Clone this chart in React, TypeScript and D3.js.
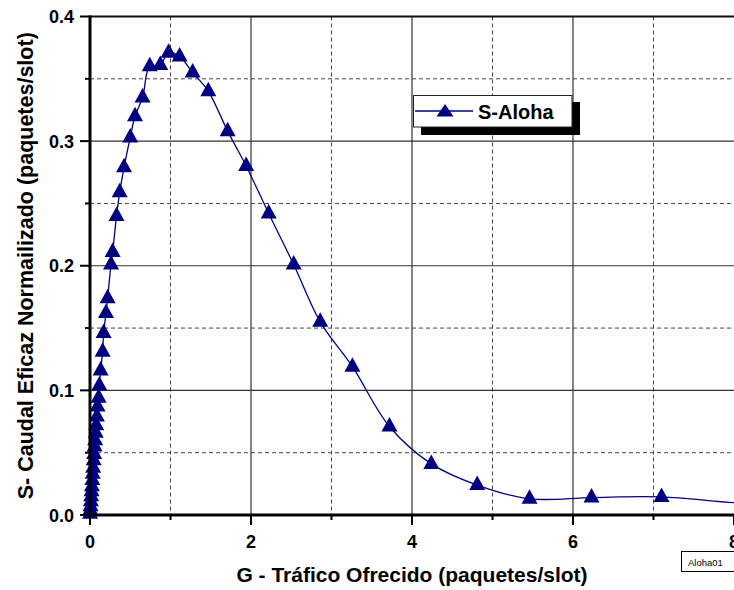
import React from "react";
import * as d3 from "d3";

// Offered traffic G (packets/slot) and normalized throughput S for slotted Aloha
const trafficG: number[] = [
  0.001, 0.004, 0.007, 0.011, 0.015, 0.019, 0.024, 0.029, 0.034, 0.040,
  0.046, 0.052, 0.058, 0.064, 0.071, 0.078, 0.086, 0.094, 0.107, 0.116,
  0.132, 0.157, 0.169, 0.199, 0.219, 0.261, 0.281, 0.330, 0.369, 0.423,
  0.500, 0.559, 0.653, 0.742, 0.873, 0.976, 1.113, 1.275, 1.47, 1.71,
  1.94, 2.22, 2.53, 2.86, 3.26, 3.72, 4.24, 4.81, 5.46, 6.23, 7.10,
];
const throughputS: number[] = [
  0.001, 0.004, 0.007, 0.011, 0.015, 0.019, 0.023, 0.028, 0.033, 0.038,
  0.044, 0.049, 0.055, 0.060, 0.066, 0.072, 0.079, 0.087, 0.094, 0.104,
  0.116, 0.131, 0.146, 0.162, 0.174, 0.201, 0.211, 0.240, 0.259, 0.279,
  0.303, 0.320, 0.335, 0.360, 0.361, 0.371, 0.368, 0.355, 0.340, 0.308,
  0.280, 0.242, 0.201, 0.155, 0.119, 0.071, 0.041, 0.024, 0.013, 0.014,
  0.0145,
];
// Curve continues past the last marker
const tailG: number[] = [8.0, 8.6];
const tailS: number[] = [0.0099, 0.0085];

const xMajorTicks: number[] = [0, 2, 4, 6, 8];
const xMinorTicks: number[] = [1, 3, 5, 7];
const yMajorTicks: number[] = [0.0, 0.1, 0.2, 0.3, 0.4];
const yMinorTicks: number[] = [0.05, 0.15, 0.25, 0.35];

const seriesName = "S-Aloha";
const xTitle = "G - Tráfico Ofrecido (paquetes/slot)";
const yTitle = "S- Caudal Eficaz Normailizado (paquetes/slot)";
const tagText = "Aloha01";

const W = 734;
const H = 590;
const left = 90;
const right = 734;
const top = 16.5;
const bottom = 515;
const NAVY = "#000080";
const FONT = "'Liberation Sans', Arial, Helvetica, sans-serif";

function triangle(cx: number, cy: number, w: number, up: number, down: number) {
  return `M${cx},${cy - up}L${cx + w / 2},${cy + down}L${cx - w / 2},${cy + down}Z`;
}

export default function App() {
  const x = d3.scaleLinear().domain([0, 8]).range([left, right]);
  const y = d3.scaleLinear().domain([0, 0.4]).range([bottom, top]);

  const pts: [number, number][] = trafficG.map((g, i) => [g, throughputS[i]]);
  const linePts: [number, number][] = [
    [0, 0],
    ...pts,
    ...tailG.map((g, i) => [g, tailS[i]] as [number, number]),
  ];
  const line = d3
    .line<[number, number]>()
    .x((d) => x(d[0]))
    .y((d) => y(d[1]))
    .curve(d3.curveCatmullRom.alpha(0.5));

  const yTickLabel = d3.format(".1f");

  return (
    <svg
      width={W}
      height={H}
      style={{ position: "absolute", left: 0, top: 0, background: "#fff" }}
      fontFamily={FONT}
    >
      <defs>
        <clipPath id="plotClip">
          <rect x={left} y={top} width={right - left} height={bottom - top} />
        </clipPath>
      </defs>
      <rect x={0} y={0} width={W} height={H} fill="#fff" />

      {/* grid */}
      {xMinorTicks.map((t) => (
        <line key={"gxm" + t} x1={x(t)} x2={x(t)} y1={top} y2={bottom}
          stroke="#444" strokeWidth={1} strokeDasharray="4,3" />
      ))}
      {yMinorTicks.map((t) => (
        <line key={"gym" + t} x1={left} x2={right} y1={y(t)} y2={y(t)}
          stroke="#444" strokeWidth={1} strokeDasharray="4,3" />
      ))}
      {xMajorTicks.filter((t) => t > 0 && t < 8).map((t) => (
        <line key={"gx" + t} x1={x(t)} x2={x(t)} y1={top} y2={bottom}
          stroke="#333" strokeWidth={1.2} />
      ))}
      {yMajorTicks.filter((t) => t > 0 && t < 0.4).map((t) => (
        <line key={"gy" + t} x1={left} x2={right} y1={y(t)} y2={y(t)}
          stroke="#333" strokeWidth={1.2} />
      ))}

      {/* top frame */}
      <line x1={left} x2={right} y1={top} y2={top} stroke="#111" strokeWidth={2} />

      {/* data */}
      <g clipPath="url(#plotClip)">
        <path d={line(linePts) ?? ""} fill="none" stroke={NAVY} strokeWidth={1.3} />
      </g>
      {pts.map(([g, s], i) => (
        <path key={"m" + i} d={triangle(x(g), y(s), 16, 9.5, 5)} fill={NAVY} />
      ))}

      {/* axes */}
      <line x1={left} x2={left} y1={top - 1} y2={bottom + 1.5} stroke="#000" strokeWidth={3} />
      <line x1={left - 1.5} x2={right} y1={bottom} y2={bottom} stroke="#000" strokeWidth={3} />

      {yMajorTicks.map((t) => (
        <g key={"yt" + t}>
          <line x1={left - 10} x2={left} y1={y(t)} y2={y(t)} stroke="#000" strokeWidth={2} />
          <text x={74} y={y(t) + 6.5} textAnchor="end" fontSize={18} fontWeight="bold">
            {yTickLabel(t)}
          </text>
        </g>
      ))}
      {yMinorTicks.map((t) => (
        <line key={"ytm" + t} x1={left - 5} x2={left} y1={y(t)} y2={y(t)} stroke="#000" strokeWidth={2} />
      ))}
      {xMajorTicks.map((t) => (
        <g key={"xt" + t}>
          <line x1={x(t)} x2={x(t)} y1={bottom} y2={bottom + 10} stroke="#000" strokeWidth={2} />
          <text x={x(t)} y={548} textAnchor="middle" fontSize={18} fontWeight="bold">
            {t}
          </text>
        </g>
      ))}
      {xMinorTicks.map((t) => (
        <line key={"xtm" + t} x1={x(t)} x2={x(t)} y1={bottom} y2={bottom + 5} stroke="#000" strokeWidth={2} />
      ))}

      {/* axis titles */}
      <text x={(left + right) / 2} y={582} textAnchor="middle" fontSize={21} fontWeight="bold">
        {xTitle}
      </text>
      <text
        transform={`translate(33,${(top + bottom) / 2}) rotate(-90)`}
        textAnchor="middle" fontSize={21.5} fontWeight="bold"
      >
        {yTitle}
      </text>

      {/* legend */}
      <rect x={421} y={102} width={159} height={33} fill="#000" />
      <rect x={413.5} y={95.5} width={158.5} height={31.5} fill="#fff" stroke="#222" strokeWidth={1} />
      <line x1={415} x2={473} y1={111} y2={111} stroke={NAVY} strokeWidth={1.3} />
      <path d={triangle(445, 112, 17, 8, 4.5)} fill={NAVY} />
      <text x={478} y={118.5} fontSize={20} fontWeight="bold">{seriesName}</text>

      {/* tag box */}
      <rect x={681.5} y={551.5} width={60} height={20} fill="#fff" stroke="#000" strokeWidth={1} />
      <text x={688} y={565.5} fontSize={9.5}>{tagText}</text>
    </svg>
  );
}
